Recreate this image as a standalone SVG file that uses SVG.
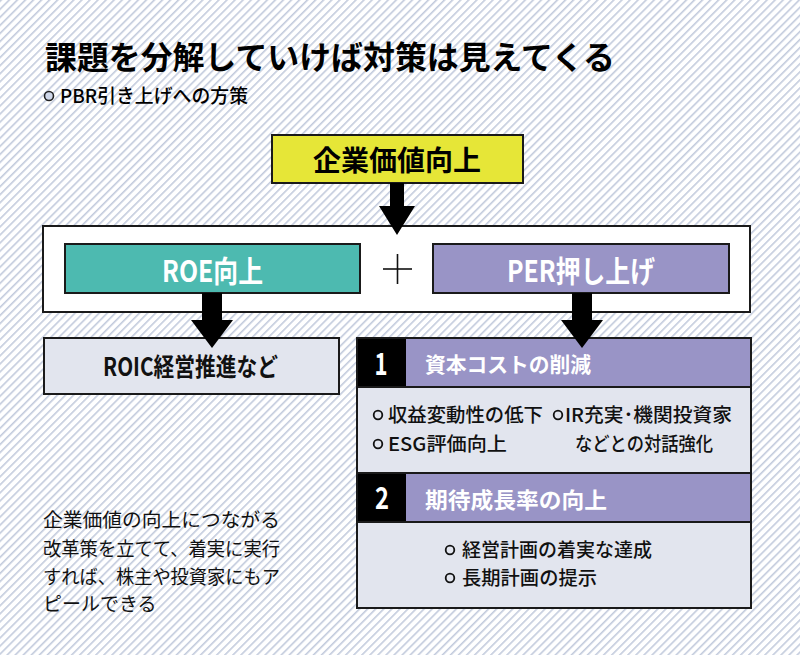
<svg xmlns="http://www.w3.org/2000/svg" width="800" height="655" viewBox="0 0 800 655">
  <defs>
    <pattern id="stripes" patternUnits="userSpaceOnUse" width="5.7" height="5.7" patternTransform="rotate(45)">
      <rect width="5.7" height="5.7" fill="#ffffff"/>
      <rect x="0" y="0" width="1.6" height="5.7" fill="#c3cbdd"/>
    </pattern>
    <style>
      .jp { font-family: "Noto Sans CJK JP", "Noto Sans", sans-serif; }
      .box { stroke: #1a1a1a; stroke-width: 2; }
      .wb { fill: #ffffff; font-weight: 700; }
      .body { font-size: 19px; fill: #111; font-weight: 500; }
      .bul { fill: none; stroke: #111; stroke-width: 1.8; }
      .arrow { fill: #000; }
    </style>
  </defs>

  <rect width="800" height="655" fill="url(#stripes)"/>

  <g id="title">
    <text class="jp" x="45" y="69" font-size="32" font-weight="700" fill="#000" textLength="570" lengthAdjust="spacingAndGlyphs">課題を分解していけば対策は見えてくる</text>
    <circle cx="49" cy="96" r="4.5" fill="#d0d8ea" stroke="#222" stroke-width="1.6"/>
    <text class="jp" x="60" y="103" font-size="19" font-weight="500" fill="#000" textLength="188" lengthAdjust="spacingAndGlyphs">PBR引き上げへの方策</text>
  </g>

  <g id="node-kigyou">
    <rect class="box" x="272" y="135" width="251" height="48" fill="#e6e637"/>
    <text class="jp" x="397" y="171" font-size="28" font-weight="700" text-anchor="middle" fill="#000" textLength="168" lengthAdjust="spacingAndGlyphs">企業価値向上</text>
  </g>

  <g id="group-frame">
    <rect class="box" x="43" y="226" width="707" height="86" fill="#ffffff"/>
  </g>

  <g id="node-roe">
    <rect class="box" x="65" y="244" width="295" height="49" fill="#4dbab0"/>
    <text class="jp wb" x="212.5" y="282" font-size="30" text-anchor="middle" textLength="101" lengthAdjust="spacingAndGlyphs">ROE向上</text>
  </g>

  <g id="plus">
    <line x1="383" y1="269" x2="412" y2="269" stroke="#111" stroke-width="1.6"/>
    <line x1="397.5" y1="254" x2="397.5" y2="284" stroke="#111" stroke-width="1.6"/>
  </g>

  <g id="node-per">
    <rect class="box" x="433" y="244" width="296" height="49" fill="#9994c6"/>
    <text class="jp wb" x="581" y="282" font-size="30" text-anchor="middle" textLength="148" lengthAdjust="spacingAndGlyphs">PER押し上げ</text>
  </g>

  <g id="node-roic">
    <rect class="box" x="44" y="338" width="295" height="56" fill="#e2e5ee"/>
    <text class="jp" x="190.5" y="376" font-size="25" font-weight="700" text-anchor="middle" fill="#111" textLength="175" lengthAdjust="spacingAndGlyphs">ROIC経営推進など</text>
  </g>

  <g id="node-per-detail">
    <rect x="357" y="338" width="394" height="270" fill="#e2e5ee"/>
    <rect x="357" y="338" width="49" height="49" fill="#000"/>
    <rect x="406" y="338" width="345" height="49" fill="#9994c6"/>
    <rect x="357" y="473" width="49" height="49" fill="#000"/>
    <rect x="406" y="473" width="345" height="49" fill="#9994c6"/>
    <line x1="357" y1="387" x2="751" y2="387" stroke="#1a1a1a" stroke-width="2"/>
    <line x1="357" y1="473" x2="751" y2="473" stroke="#1a1a1a" stroke-width="2"/>
    <line x1="357" y1="522" x2="751" y2="522" stroke="#1a1a1a" stroke-width="2"/>
    <rect class="box" x="357" y="338" width="394" height="270" fill="none"/>

    <text class="jp wb" x="381" y="375" font-size="31" text-anchor="middle" textLength="13" lengthAdjust="spacingAndGlyphs">1</text>
    <text class="jp wb" x="425" y="372" font-size="21" textLength="166" lengthAdjust="spacingAndGlyphs">資本コストの削減</text>

    <circle class="bul" cx="378" cy="415" r="4.3"/>
    <text class="jp body" x="388" y="422" textLength="155" lengthAdjust="spacingAndGlyphs">収益変動性の低下</text>
    <circle class="bul" cx="558" cy="415" r="4.3"/>
    <text class="jp body" x="565" y="422" textLength="167" lengthAdjust="spacingAndGlyphs">IR充実･機関投資家</text>
    <circle class="bul" cx="378" cy="444" r="4.3"/>
    <text class="jp body" x="388" y="451" textLength="119" lengthAdjust="spacingAndGlyphs">ESG評価向上</text>
    <text class="jp body" x="575" y="451" textLength="138" lengthAdjust="spacingAndGlyphs">などとの対話強化</text>

    <text class="jp wb" x="382" y="509" font-size="31" text-anchor="middle" textLength="14" lengthAdjust="spacingAndGlyphs">2</text>
    <text class="jp wb" x="425" y="508" font-size="22" textLength="182" lengthAdjust="spacingAndGlyphs">期待成長率の向上</text>

    <circle class="bul" cx="450" cy="550" r="4.3"/>
    <text class="jp body" x="462" y="557" textLength="190" lengthAdjust="spacingAndGlyphs">経営計画の着実な達成</text>
    <circle class="bul" cx="450" cy="578" r="4.3"/>
    <text class="jp body" x="462" y="585" textLength="135" lengthAdjust="spacingAndGlyphs">長期計画の提示</text>
  </g>

  <g id="note">
    <text class="jp" x="43" y="527" font-size="19" fill="#111" textLength="237" lengthAdjust="spacingAndGlyphs">企業価値の向上につながる</text>
    <text class="jp" x="43" y="556" font-size="19" fill="#111" textLength="237" lengthAdjust="spacingAndGlyphs">改革策を立てて、着実に実行</text>
    <text class="jp" x="43" y="584" font-size="19" fill="#111" textLength="237" lengthAdjust="spacingAndGlyphs">すれば、株主や投資家にもア</text>
    <text class="jp" x="43" y="611" font-size="19" fill="#111">ピールできる</text>
  </g>

  <g id="connectors">
    <polygon class="arrow" points="390,183 404,183 404,206 415,206 397,235 379,206 390,206"/>
    <polygon class="arrow" points="202,293 222,293 222,320 233,320 212,348 191,320 202,320"/>
    <polygon class="arrow" points="572,293 592,293 592,320 603,320 582,348 561,320 572,320"/>
  </g>
</svg>
